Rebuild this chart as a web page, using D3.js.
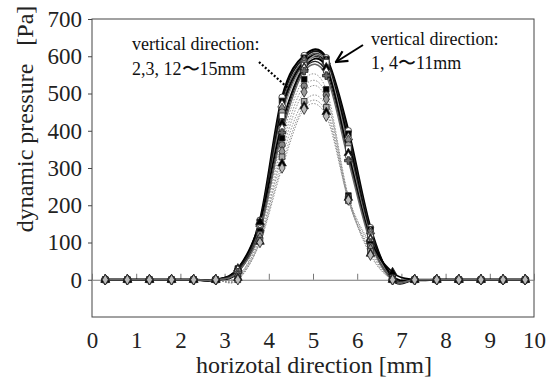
<!DOCTYPE html>
<html>
<head>
<meta charset="utf-8">
<script src="https://cdn.jsdelivr.net/npm/d3@7"></script>
<style>
  body { margin: 0; background: #fff; }
  svg text { font-family: "Liberation Serif", "Times New Roman", serif !important; }
</style>
</head>
<body>
<svg id="chart" width="547" height="380"></svg>
<script>
// horizontal positions of the measuring points [mm]
var xPos = [0.3, 0.8, 1.3, 1.8, 2.3, 2.8, 3.3, 3.8, 4.3, 4.8, 5.3, 5.8, 6.3, 6.8, 7.3, 7.8, 8.3, 8.8, 9.3, 9.8];
var xTicks = [0, 1, 2, 3, 4, 5, 6, 7, 8, 9, 10];
var yTicks = [0, 100, 200, 300, 400, 500, 600, 700];

// vertical direction 1, 4~11 mm (solid lines)
var v1  = [0, 0, 0, 0, 0, 0, 25, 160, 490, 602, 596, 400, 140, 0, 0, 0, 0, 0, 0, 0];
var v4  = [0, 0, 0, 0, 0, 0, 30, 155, 480, 596, 592, 392, 135, 5, 0, 0, 0, 0, 0, 0];
var v5  = [0, 0, 0, 0, 0, 0, 25, 150, 470, 590, 586, 382, 130, 0, 0, 0, 0, 0, 0, 0];
var v6  = [0, 0, 0, 0, 0, 0, 20, 145, 460, 585, 582, 375, 125, 10, 0, 0, 0, 0, 0, 0];
var v7  = [0, 0, 0, 0, 0, 0, 28, 150, 450, 580, 576, 362, 120, 0, 0, 0, 0, 0, 0, 0];
var v8  = [0, 0, 0, 0, 0, 0, 22, 140, 440, 576, 584, 352, 115, 0, 0, 0, 0, 0, 0, 0];
var v9  = [0, 0, 0, 0, 0, 0, 30, 155, 420, 570, 570, 340, 110, 20, 0, 0, 0, 0, 0, 0];
var v10 = [0, 0, 0, 0, 0, 0, 25, 135, 405, 566, 558, 330, 105, 0, 0, 0, 0, 0, 0, 0];
var v11 = [0, 0, 0, 0, 0, 0, 20, 130, 395, 560, 548, 320, 100, 0, 0, 0, 0, 0, 0, 0];
// vertical direction 2, 3, 12~15 mm (dotted lines)
var v2  = [0, 0, 0, 0, 0, 0, 5, 130, 380, 538, 511, 226, 95, 0, 0, 0, 0, 0, 0, 0];
var v3  = [0, 0, 0, 0, 0, 0, 0, 122, 362, 520, 496, 222, 90, 0, 0, 0, 0, 0, 0, 0];
var v12 = [0, 0, 0, 0, 0, 0, 10, 112, 344, 504, 485, 216, 82, 0, 0, 0, 0, 0, 0, 0];
var v13 = [0, 0, 0, 0, 0, 0, 0, 106, 330, 479, 463, 212, 76, 0, 0, 0, 0, 0, 0, 0];
var v14 = [0, 0, 0, 0, 0, 0, 5, 102, 312, 466, 450, 220, 70, 0, 0, 0, 0, 0, 0, 0];
var v15 = [0, 0, 0, 0, 0, 0, 0, 100, 300, 458, 439, 214, 66, 0, 0, 0, 0, 0, 0, 0];

var solidSeries = [v1, v4, v5, v6, v7, v8, v9, v10, v11];
var dottedSeries = [v2, v3, v12, v13, v14, v15];

var svg = d3.select("#chart"),
    margin = {top: 19, right: 13, bottom: 63, left: 92},
    width = 547 - margin.left - margin.right,
    height = 380 - margin.top - margin.bottom;

var x = d3.scaleLinear().domain([0, 10]).range([margin.left, margin.left + width]);
var y = d3.scaleLinear().domain([-100, 700]).range([margin.top + height, margin.top]);

// plot frame
svg.append("rect")
    .attr("x", margin.left).attr("y", margin.top)
    .attr("width", width).attr("height", height)
    .attr("fill", "none").attr("stroke", "#444").attr("stroke-width", 1);

// zero line with small upward ticks
var zeroAxis = svg.append("g")
    .attr("transform", "translate(0," + y(0) + ")")
    .call(d3.axisTop(x).tickValues(xTicks.slice(1, -1)).tickSize(6).tickFormat(""));
zeroAxis.selectAll("path, line").attr("stroke", "#777");

// y axis
var yAxis = svg.append("g")
    .attr("transform", "translate(" + margin.left + ",0)")
    .call(d3.axisLeft(y).tickValues(yTicks).tickSize(4).tickPadding(6));
yAxis.select(".domain").remove();
yAxis.selectAll("line").attr("stroke", "#444");
yAxis.selectAll("text").attr("font-size", 23).attr("fill", "#222");

// x axis labels under the frame
var xAxis = svg.append("g")
    .attr("transform", "translate(0," + (margin.top + height) + ")")
    .call(d3.axisBottom(x).tickValues(xTicks).tickSize(0).tickPadding(15));
xAxis.select(".domain").remove();
xAxis.selectAll("text").attr("font-size", 23).attr("fill", "#222");

// axis titles
svg.append("text")
    .attr("transform", "translate(33,119) rotate(-90)")
    .attr("text-anchor", "middle")
    .attr("font-size", 24).attr("fill", "#222")
    .style("white-space", "pre")
    .text("dynamic pressure   [Pa]");

svg.append("text")
    .attr("x", 314).attr("y", 373)
    .attr("text-anchor", "middle")
    .attr("font-size", 24).attr("fill", "#222")
    .text("horizotal direction [mm]");

// lines
var line = d3.line()
    .x(function (d, i) { return x(xPos[i]); })
    .y(function (d) { return y(d); })
    .curve(d3.curveCardinal.tension(0));

var plot = svg.append("g");

plot.selectAll(".dotted")
    .data(dottedSeries)
    .enter().append("path")
    .attr("class", "dotted")
    .attr("d", line)
    .attr("fill", "none")
    .attr("stroke", "#888")
    .attr("stroke-width", 0.9)
    .attr("stroke-dasharray", "1.5,1.5");

var solidColors = ["#000", "#111", "#555", "#000", "#333", "#999", "#000", "#222", "#666"];
var solidWidths = [2.2, 1.6, 1.2, 2, 1.4, 1.2, 1.8, 1.2, 1.4];
plot.selectAll(".solid")
    .data(solidSeries)
    .enter().append("path")
    .attr("class", "solid")
    .attr("d", line)
    .attr("fill", "none")
    .attr("stroke", function (d, i) { return solidColors[i]; })
    .attr("stroke-width", function (d, i) { return solidWidths[i]; });

// markers
var symbols = [d3.symbolCircle, d3.symbolSquare, d3.symbolTriangle, d3.symbolDiamond,
               d3.symbolCircle, d3.symbolSquare, d3.symbolTriangle, d3.symbolDiamond,
               d3.symbolCross, d3.symbolSquare, d3.symbolCircle, d3.symbolDiamond,
               d3.symbolSquare, d3.symbolTriangle, d3.symbolDiamond];
var fills = ["#fff", "#000", "#fff", "#888", "#aaa", "#fff", "#000", "#fff",
             "#666", "#000", "#888", "#999", "#aaa", "#000", "#bbb"];
var allSeries = solidSeries.concat(dottedSeries);

allSeries.forEach(function (s, k) {
    plot.append("g").selectAll("path")
        .data(s)
        .enter().append("path")
        .attr("transform", function (d, i) { return "translate(" + x(xPos[i]) + "," + y(d) + ")"; })
        .attr("d", d3.symbol().type(symbols[k]).size(32))
        .attr("fill", fills[k])
        .attr("stroke", "#222")
        .attr("stroke-width", 0.8);
});

// annotations
var note = svg.append("g").attr("font-size", 18).attr("fill", "#111");
note.append("text").attr("x", 132).attr("y", 50).text("vertical direction:");
note.append("text").attr("x", 132).attr("y", 75).text("2,3, 12\u301c15mm");
note.append("text").attr("x", 371).attr("y", 45).text("vertical direction:");
note.append("text").attr("x", 371).attr("y", 69).text("1, 4\u301c11mm");

svg.append("defs").append("marker")
    .attr("id", "head")
    .attr("viewBox", "0 0 10 10")
    .attr("refX", 9).attr("refY", 5)
    .attr("markerWidth", 7).attr("markerHeight", 7)
    .attr("orient", "auto")
    .append("path")
    .attr("d", "M1,1 L9,5 L1,9")
    .attr("fill", "none").attr("stroke", "#000").attr("stroke-width", 1.6);

svg.append("line")
    .attr("x1", 259).attr("y1", 62).attr("x2", 288).attr("y2", 88)
    .attr("stroke", "#000").attr("stroke-width", 2.2)
    .attr("stroke-dasharray", "2,2");
svg.append("line")
    .attr("x1", 363).attr("y1", 45).attr("x2", 336).attr("y2", 62)
    .attr("stroke", "#000").attr("stroke-width", 2)
    .attr("marker-end", "url(#head)");
</script>
</body>
</html>
